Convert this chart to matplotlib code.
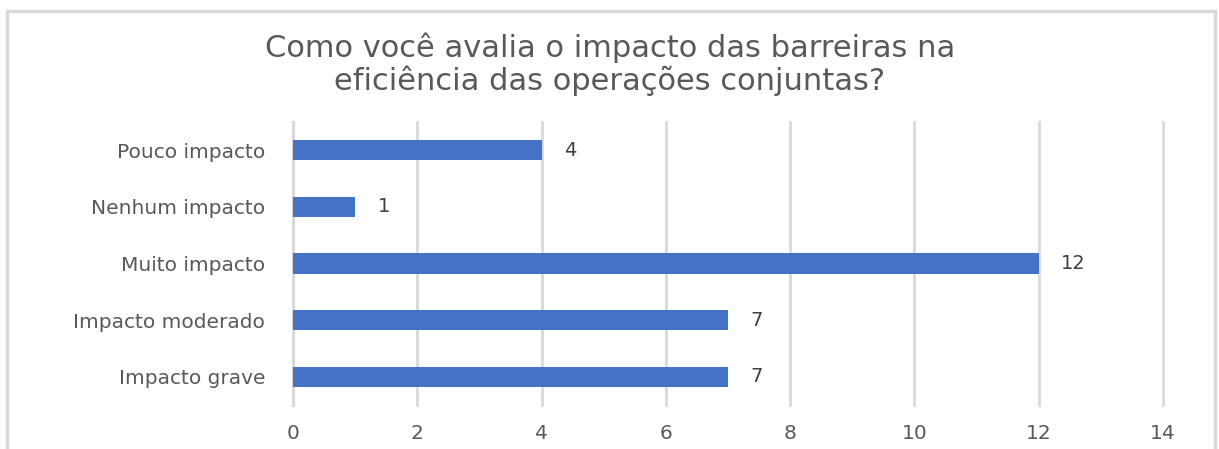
import matplotlib
matplotlib.use('Agg')
from matplotlib import pyplot as plt
from matplotlib.patches import Rectangle

# dados do gráfico (de cima para baixo)
categorias = ['Pouco impacto', 'Nenhum impacto', 'Muito impacto', 'Impacto moderado', 'Impacto grave']
valores = [4, 1, 12, 7, 7]
ticks_x = [0, 2, 4, 6, 8, 10, 12, 14]
titulo = 'Como você avalia o impacto das barreiras na\neficiência das operações conjuntas?'

plt.rcParams['font.family'] = ['DejaVu Sans']

W, H = 1219, 449
fig = plt.figure(figsize=(W / 100, H / 100), dpi=100)
ax = fig.add_axes([293 / W, 1 - 405 / H, (1163 - 293) / W, (405 - 122) / H])

# moldura do gráfico
fig.patches.append(Rectangle((7 / W, -0.05), (1215 - 7) / W, 1.05 - 11 / H,
                             transform=fig.transFigure, fill=False,
                             edgecolor='#d9d9d9', linewidth=2.5))

y = list(range(len(categorias)))[::-1]
ax.barh(y, valores, height=0.36, color='#4472C4', zorder=3)
for yi, v in zip(y, valores):
    ax.text(v + 0.36, yi, str(v), va='center', ha='left', fontsize=14, color='#404040')

ax.set_xlim(0, 14)
ax.set_ylim(-0.5, len(categorias) - 0.5)
ax.set_xticks(ticks_x)
ax.set_yticks(y)
ax.set_yticklabels(categorias)
ax.tick_params(axis='both', length=0, labelsize=14.5, colors='#595959')
ax.tick_params(axis='y', pad=20)
ax.tick_params(axis='x', pad=14)
ax.grid(axis='x', color='#d9d9d9', linewidth=2, zorder=0)
# a última linha de grade (14) não deve ser cortada pela borda
for gl in ax.get_xgridlines():
    gl.set_clip_on(False)
for s in ['top', 'right', 'bottom']:
    ax.spines[s].set_visible(False)
ax.spines['left'].set_color('#d9d9d9')
ax.spines['left'].set_linewidth(2)
ax.set_axisbelow(True)

fig.text(610 / W, 1 - 64 / H, titulo, ha='center', va='center', fontsize=22,
         color='#595959', linespacing=1.1)

fig.savefig('out.png', dpi=100)
